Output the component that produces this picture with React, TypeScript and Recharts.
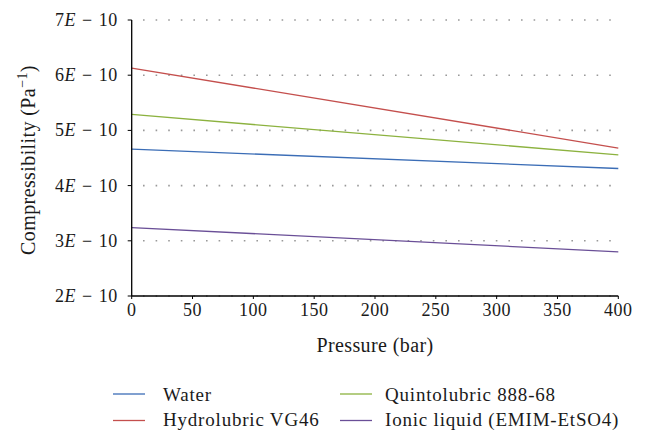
import React from "react";
import { LineChart, Line, XAxis, YAxis, CartesianGrid, Legend } from "recharts";

// Pressure (bar)
const pressure = [0, 400];
// Compressibility in units of 1E-10 Pa^-1
const water = [4.66, 4.31];
const hydrolubric = [6.13, 4.68];
const quintolubric = [5.29, 4.555];
const ionic = [3.24, 2.8];

const xTicks = [0, 50, 100, 150, 200, 250, 300, 350, 400];
const yTicks = [2, 3, 4, 5, 6, 7];

const seriesNames = ["Water", "Hydrolubric VG46", "Quintolubric 888-68", "Ionic liquid (EMIM-EtSO4)"];
const seriesKeys = ["water", "hydrolubric", "quintolubric", "ionic"];
const seriesColors = ["#3b6db6", "#c44f4d", "#8cb23f", "#6a4f97"];

const data = pressure.map((p, i) => ({
  p,
  water: water[i],
  hydrolubric: hydrolubric[i],
  quintolubric: quintolubric[i],
  ionic: ionic[i],
}));

const TXT: React.CSSProperties = {
  fontFamily: "Liberation Serif",
  fontSize: 18,
  letterSpacing: 0.5,
  fill: "#1a1a1a",
};

const YTick = (props: any) => {
  const { x, y, payload } = props;
  return (
    <text x={x - 10} y={y} dy={6} textAnchor="end" style={TXT}>
      <tspan>{payload.value}</tspan>
      <tspan fontStyle="italic">E</tspan>
      <tspan dx={6}>−</tspan>
      <tspan dx={6}>10</tspan>
    </text>
  );
};

const XTick = (props: any) => {
  const { x, y, payload } = props;
  return (
    <text x={x} y={y} dy={13} textAnchor="middle" style={TXT}>
      {payload.value}
    </text>
  );
};

const LegendContent = () => {
  const cols = [
    { lx: 113, tx: 163 },
    { lx: 340, tx: 385 },
  ];
  const order = [0, 2, 1, 3];
  const rows = [394, 420.5];
  const base = [401, 426];
  return (
    <svg width={647} height={60} style={{ overflow: "visible", display: "block" }}>
      {order.map((si, idx) => {
        const col = cols[idx % 2];
        const r = Math.floor(idx / 2);
        return (
          <g key={si}>
            <line x1={col.lx} x2={col.lx + 32} y1={rows[r] - 372} y2={rows[r] - 372} stroke={seriesColors[si]} strokeWidth={1.3} />
            <text x={col.tx} y={base[r] - 372} style={{ ...TXT, fontSize: 19, letterSpacing: 0.8 }}>
              {seriesNames[si]}
            </text>
          </g>
        );
      })}
    </svg>
  );
};

export default function App() {
  return (
    <div style={{ position: "absolute", left: 0, top: 0, width: 647, height: 432, background: "#fff" }}>
      <LineChart
        width={647}
        height={432}
        data={data}
        margin={{ top: 20, right: 28.7, bottom: 96, left: 0 }}
      >
        <CartesianGrid
          horizontal
          vertical={false}
          stroke="#999"
          strokeWidth={1.6}
          strokeDasharray="1.6 11"
          strokeDashoffset={1.3}
        />
        <XAxis
          dataKey="p"
          type="number"
          domain={[0, 400]}
          ticks={xTicks}
          interval={0}
          tickSize={3}
          tickMargin={4}
          tick={<XTick />}
          axisLine={{ stroke: "#000", strokeWidth: 1.3 }}
          tickLine={{ stroke: "#000" }}
          height={40}
          label={() => (
            <text x={375} y={352} textAnchor="middle" style={{ ...TXT, fontSize: 20, letterSpacing: 0.4 }}>
              Pressure (bar)
            </text>
          )}
        />
        <YAxis
          type="number"
          domain={[2, 7]}
          ticks={yTicks}
          interval={0}
          width={131.7}
          tickSize={4}
          tickMargin={0}
          tick={<YTick />}
          axisLine={{ stroke: "#000", strokeWidth: 1.3 }}
          tickLine={{ stroke: "#000" }}
          label={() => (
            <text
              x={0}
              y={0}
              transform="translate(35, 160) rotate(-90)"
              textAnchor="middle"
              style={{ ...TXT, fontSize: 20, letterSpacing: 0.4 }}
            >
              Compressibility (Pa
              <tspan dy={-8} fontSize={14}>−1</tspan>
              <tspan dy={8}>)</tspan>
            </text>
          )}
        />
        <Legend
          layout="horizontal"
          verticalAlign="middle"
          align="center"
          content={<LegendContent />}
          wrapperStyle={{ position: "absolute", top: 372, left: 0, width: 647, height: 60 }}
        />
        {seriesKeys.map((k, i) => (
          <Line
            key={k}
            type="linear"
            dataKey={k}
            name={seriesNames[i]}
            stroke={seriesColors[i]}
            strokeWidth={1.3}
            dot={false}
            activeDot={false}
            isAnimationActive={false}
          />
        ))}
      </LineChart>
    </div>
  );
}
